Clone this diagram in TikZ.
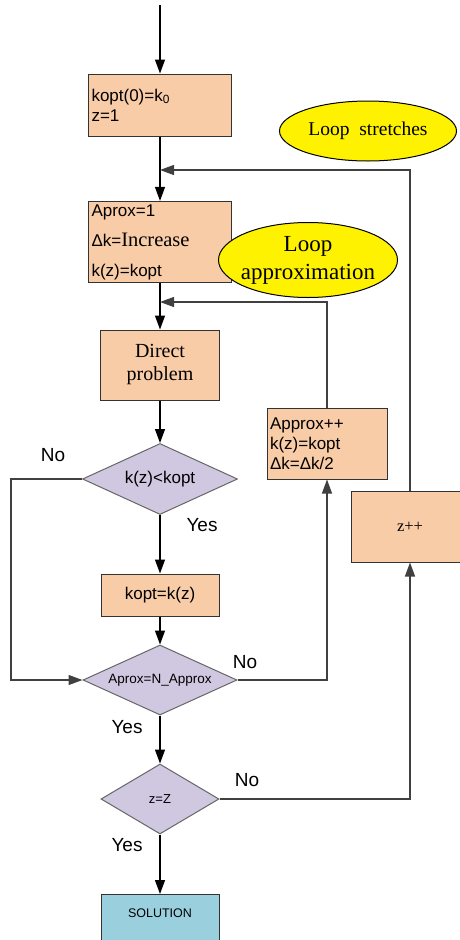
\documentclass[tikz,border=0pt]{standalone}
\usepackage{fontspec}
\setmainfont{Liberation Serif}
\setsansfont{Liberation Sans}
\usepackage{tikz}
\usetikzlibrary{arrows.meta,shapes.geometric,positioning}
\definecolor{BoxPeach}{RGB}{249,204,168}
\definecolor{DiaLilac}{RGB}{208,200,224}
\definecolor{SolBlue}{RGB}{154,208,222}
\begin{document}
\begin{tikzpicture}[x=1pt, y=-1pt, >={Triangle[length=14pt,width=10pt]},
  blk/.style={draw=black!80, line width=1pt, fill=BoxPeach, inner sep=3pt,
              font=\sffamily\fontsize{17}{20}\selectfont},
  dec/.style={diamond, aspect=2.2, draw=black!60, line width=1pt, fill=DiaLilac, inner sep=0pt,
              font=\sffamily\fontsize{17}{19}\selectfont},
  tag/.style={ellipse, draw=black, line width=1pt, fill=yellow, inner ysep=0pt, inner xsep=-5pt,
              align=center, font=\rmfamily\fontsize{23}{28}\selectfont},
  lbl/.style={font=\sffamily\fontsize{19}{22}\selectfont},
  sig/.style={->, line width=1.3pt},
  back/.style={->, line width=1.2pt, draw=black!75}]
  \useasboundingbox (0,0) rectangle (460,940);
  \clip (0,0) rectangle (460,940);

  \coordinate (top) at (160,5);
  \coordinate (join1) at (160,170);
  \coordinate (join2) at (160,302);
  \node[blk, text width=137pt, minimum height=62pt, align=left] (init) at (160,105)
    {kopt(0)=k\textsubscript{0}\\z=1};
  \node[blk, text width=137pt, minimum height=76pt, align=left,
        font=\sffamily\fontsize{17}{30}\selectfont] (aprox) at (160,242)
    {Aprox=1\\Δk={\rmfamily\fontsize{20.5}{30}\selectfont Increase}\\k(z)=kopt};
  \node[blk, minimum width=119pt, minimum height=70pt, align=center,
        font=\rmfamily\fontsize{20}{23}\selectfont] (direct) at (160,365) {Direct\\problem};
  \node[dec, minimum width=155pt, minimum height=71pt] (test) at (160,479) {k(z)<kopt};
  \node[blk, minimum width=118pt, minimum height=42pt] (best) at (160,595) {kopt=k(z)};
  \node[dec, minimum width=154pt, minimum height=70pt,
        font=\sffamily\fontsize{13.5}{16}\selectfont] (napx) at (160,680) {Aprox=N\_Approx};
  \node[dec, minimum width=118pt, minimum height=70pt,
        font=\sffamily\fontsize{13}{16}\selectfont] (zend) at (160,799) {z=Z};
  \node[blk, fill=SolBlue, minimum width=118pt, anchor=north, inner ysep=14pt, text depth=30pt,
        font=\sffamily\fontsize{12.5}{15}\selectfont] (sol) at (160,894) {SOLUTION};
  \node[blk, text width=114pt, minimum height=71pt, align=left] (incr) at (327,443.5)
    {Approx++\\k(z)=kopt\\Δk=Δk/2};
  \node[blk, minimum width=118pt, minimum height=71pt,
        font=\rmfamily\fontsize{16.5}{20}\selectfont] (zinc) at (410,526.5) {z++};

  \node[tag, minimum width=177pt, minimum height=60pt,
        font=\rmfamily\fontsize{19.5}{22}\selectfont] (loopS) at (368,131) {Loop\ \ stretches};
  \node[tag, minimum width=179pt, minimum height=75pt] (loopA) at (308,260) {Loop\\approximation};

  \draw[sig] (top) -- (init);
  \draw[sig] (init) -- (aprox);
  \draw[sig] (aprox) -- (direct);
  \draw[sig] (direct) -- (test);
  \draw[sig] (test) -- (best);
  \draw[sig] (best) -- (napx);
  \draw[sig] (napx) -- (zend);
  \draw[sig] (zend) -- (sol);
  \draw[back] (test.west) -- ++(-71,0) |- (napx.west);
  \draw[back] (napx.east) -| (incr.south);
  \draw[back] (zend.east) -| (zinc.south);
  \draw[back] (incr.north) |- (join2);
  \draw[back] (zinc.north) |- (join1);

  \node[lbl] (no1) at (53,455) {No};
  \node[lbl] (yes1) at (202,525) {Yes};
  \node[lbl] (no2) at (245,662) {No};
  \node[lbl] (yes2) at (127,727) {Yes};
  \node[lbl] (no3) at (247,780) {No};
  \node[lbl] (yes3) at (127,845) {Yes};
\end{tikzpicture}
\end{document}
